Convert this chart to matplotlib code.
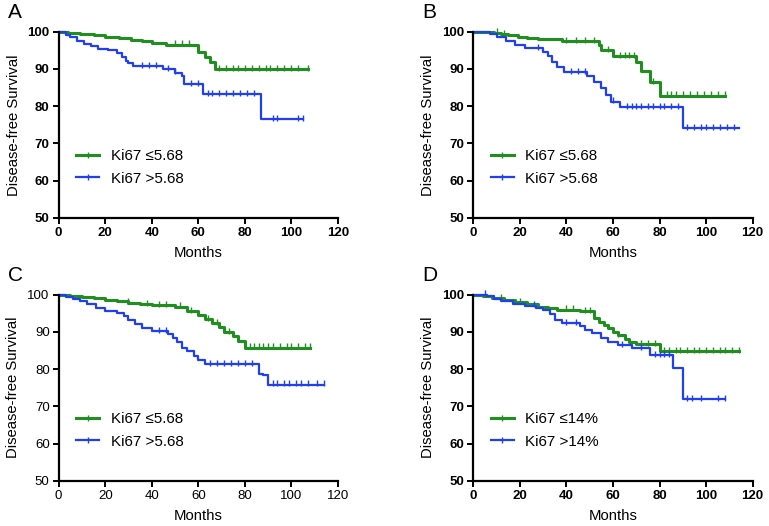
import numpy as np
import matplotlib.pyplot as plt
from matplotlib.lines import Line2D

plt.rcParams['font.family'] = ['Liberation Sans', 'DejaVu Sans']

# step curves: times where survival changes and the new level (%)
a_low_t = [0, 4, 9, 15, 20, 26, 31, 36, 40, 46, 60, 63, 65, 67]
a_low_s = [100, 99.6, 99.3, 99.0, 98.6, 98.2, 97.8, 97.4, 97.0, 96.5, 94.6, 93.3, 92.0, 90.0]
a_low_end = 107
a_low_cens = [50, 53, 56, 69, 72, 75, 77, 80, 83, 86, 89, 91, 94, 97, 100, 103, 107]
a_high_t = [0, 3, 5, 8, 11, 14, 17, 21, 25, 27, 29, 30, 32, 45, 50, 53, 54, 62, 87]
a_high_s = [100, 99.2, 98.5, 97.6, 96.8, 96.2, 95.4, 95.0, 94.3, 93.2, 92.2, 91.5, 90.7, 90.0, 89.0, 88.0, 86.0, 83.3, 76.5]
a_high_end = 105
a_high_cens = [36, 39, 42, 47, 50, 57, 60, 64, 66, 69, 72, 75, 78, 81, 84, 92, 94, 103, 105]

b_low_t = [0, 9, 12, 15, 19, 23, 28, 38, 54, 55, 60, 70, 72, 76, 80]
b_low_s = [100, 99.8, 99.4, 99.0, 98.7, 98.4, 98.0, 97.5, 96.5, 95.0, 93.4, 91.8, 89.4, 86.5, 82.8]
b_low_end = 108
b_low_cens = [10, 13, 40, 44, 48, 52, 58, 63, 65, 67, 69, 77, 83, 85, 87, 90, 93, 96, 99, 102, 105, 108]
b_high_t = [0, 7, 10, 14, 18, 22, 30, 32, 34, 36, 39, 49, 52, 55, 57, 59, 63, 90]
b_high_s = [100, 99.5, 98.5, 97.5, 96.5, 95.6, 94.6, 93.4, 92.0, 90.6, 89.2, 88.0, 86.5, 85.0, 83.0, 81.2, 79.8, 74.0]
b_high_end = 114
b_high_cens = [28, 42, 45, 48, 60, 66, 68, 70, 72, 75, 77, 80, 82, 85, 88, 92, 95, 98, 100, 103, 106, 109, 112]

c_low_t = [0, 5, 10, 15, 20, 25, 30, 35, 40, 50, 55, 60, 63, 66, 69, 71, 75, 77, 80]
c_low_s = [100, 99.7, 99.4, 99.0, 98.7, 98.3, 97.9, 97.5, 97.2, 96.8, 95.6, 94.5, 93.4, 92.4, 91.3, 90.0, 88.8, 87.6, 85.8]
c_low_end = 108
c_low_cens = [30, 38, 43, 46, 52, 57, 64, 68, 73, 82, 84, 86, 88, 90, 92, 95, 98, 100, 103, 106, 108]
c_high_t = [0, 3, 6, 9, 12, 16, 20, 25, 28, 30, 33, 36, 40, 47, 49, 51, 53, 55, 58, 60, 63, 86, 88, 90]
c_high_s = [100, 99.5, 98.9, 98.2, 97.4, 96.4, 95.7, 95.0, 94.3, 93.2, 92.0, 91.0, 90.2, 89.4, 88.3, 87.2, 85.8, 84.8, 83.6, 82.5, 81.4, 78.6, 78.5, 75.8]
c_high_end = 114
c_high_cens = [43, 46, 65, 68, 71, 74, 77, 80, 83, 92, 94, 97, 99, 102, 104, 107, 111, 114]

d_low_t = [0, 4, 8, 13, 18, 23, 28, 32, 36, 46, 52, 54, 56, 58, 60, 62, 65, 67, 70, 80]
d_low_s = [100, 99.6, 99.1, 98.6, 98.0, 97.4, 96.8, 96.3, 96.0, 95.5, 93.8, 92.8, 91.9, 91.0, 90.0, 89.1, 88.2, 87.4, 86.8, 84.8]
d_low_end = 114
d_low_cens = [12, 20, 40, 43, 48, 50, 62, 72, 75, 78, 82, 84, 87, 89, 92, 95, 97, 100, 103, 106, 108, 111, 114]
d_high_t = [0, 6, 9, 12, 17, 22, 27, 30, 33, 35, 38, 46, 48, 51, 55, 58, 62, 68, 76, 86, 90]
d_high_s = [100, 99.6, 98.8, 98.2, 97.6, 97.1, 96.5, 95.8, 94.8, 93.3, 92.3, 91.5, 90.5, 89.6, 88.3, 87.3, 86.5, 85.6, 83.8, 80.2, 72.0]
d_high_end = 108
d_high_cens = [5, 26, 40, 44, 64, 72, 78, 80, 82, 84, 92, 94, 98, 105, 108]

panels = [
    ('A', (0.0763, 0.586), 'Ki67 ≤5.68', 'Ki67 >5.68', True,
     (a_low_t, a_low_s, a_low_end, a_low_cens), (a_high_t, a_high_s, a_high_end, a_high_cens)),
    ('B', (0.6155, 0.586), 'Ki67 ≤5.68', 'Ki67 >5.68', True,
     (b_low_t, b_low_s, b_low_end, b_low_cens), (b_high_t, b_high_s, b_high_end, b_high_cens)),
    ('C', (0.0763, 0.0861), 'Ki67 ≤5.68', 'Ki67 >5.68', False,
     (c_low_t, c_low_s, c_low_end, c_low_cens), (c_high_t, c_high_s, c_high_end, c_high_cens)),
    ('D', (0.6155, 0.0861), 'Ki67 ≤14%', 'Ki67 >14%', True,
     (d_low_t, d_low_s, d_low_end, d_low_cens), (d_high_t, d_high_s, d_high_end, d_high_cens)),
]

green = '#1f8f1f'
blue = '#1f3ff0'


def km(ax, t, s, end, cens, color, lw):
    x = list(t) + [end]
    y = list(s) + [s[-1]]
    ax.step(x, y, where='post', color=color, lw=lw, clip_on=False)
    idx = np.searchsorted(t, cens, side='right') - 1
    cy = np.array(s)[idx]
    ax.plot(cens, cy + 0.35, ls='none', marker='|', ms=4, mew=1.0, color=color, clip_on=False)


fig = plt.figure(figsize=(7.69, 5.26), dpi=100)
for letter, (l, b), lab1, lab2, bold, low, high in panels:
    ax = fig.add_axes([l, b, 0.3632, 0.3536])
    km(ax, *low, green, 2.2)
    km(ax, *high, blue, 1.6)
    ax.set_xlim(0, 120)
    ax.set_ylim(50, 100)
    ax.set_xticks(range(0, 121, 20))
    ax.set_yticks(range(50, 101, 10))
    for sp in ['top', 'right']:
        ax.spines[sp].set_visible(False)
    for sp in ['left', 'bottom']:
        ax.spines[sp].set_linewidth(1.6)
    ax.tick_params(width=1.4, length=4, labelsize=9.5, pad=2.5)
    for lbl in ax.get_xticklabels() + ax.get_yticklabels():
        lbl.set_fontweight('bold' if bold else 'normal')
    ax.set_xlabel('Months', fontsize=10.7, labelpad=5)
    ax.set_ylabel('Disease-free Survival', fontsize=10.7, labelpad=5)
    handles = [Line2D([], [], color=green, lw=2.2, marker='|', ms=4, markevery=[1]),
               Line2D([], [], color=blue, lw=1.6, marker='|', ms=4, markevery=[1])]
    ax.legend(handles, [lab1, lab2], loc='center left', bbox_to_anchor=(0.015, 0.27),
              frameon=False, fontsize=10.9, handlelength=1.5, handletextpad=0.75,
              labelspacing=0.55)
    fig.text(l - 0.066, b + 0.39, letter, fontsize=15, va='center')

fig.savefig('out.png', dpi=100)
